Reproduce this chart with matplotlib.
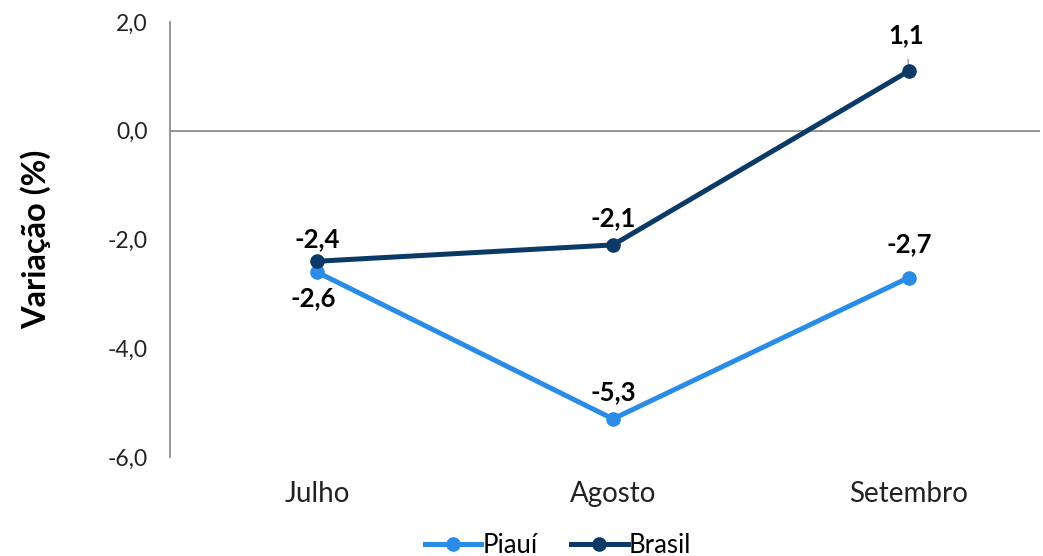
import matplotlib.pyplot as plt

plt.rcParams['font.family'] = ['Lato', 'DejaVu Sans']

meses = ['Julho', 'Agosto', 'Setembro']
piaui = [-2.6, -5.3, -2.7]
brasil = [-2.4, -2.1, 1.1]

cor_piaui = '#2A8CE6'
cor_brasil = '#0C3A66'

W, H = 1043, 556
fig = plt.figure(figsize=(W / 100, H / 100), dpi=100)
ax = fig.add_axes([170 / W, 1 - 457 / H, (1040 - 170) / W, (457 - 22) / H])

x = list(range(len(meses)))
ax.plot(x, piaui, '-o', color=cor_piaui, lw=3.6, ms=9.5, label='Piauí', zorder=3)
ax.plot(x, brasil, '-o', color=cor_brasil, lw=3.6, ms=9.5, label='Brasil', zorder=4)

ax.set_xlim(-0.497, 2.443)
ax.set_ylim(-6, 2)
ax.set_yticks([-6, -4, -2, 0, 2])
ax.set_yticklabels([f'{v:.1f}'.replace('.', ',') for v in [-6, -4, -2, 0, 2]])
ax.set_xticks(x)
ax.set_xticklabels(meses)
ax.tick_params(axis='y', length=0, pad=16, labelsize=16.5, colors='#222222')
ax.tick_params(axis='x', length=0, pad=17, labelsize=20, colors='#222222')

for s in ['top', 'right', 'bottom']:
    ax.spines[s].set_visible(False)
ax.spines['left'].set_color('#8c8c8c')
ax.spines['left'].set_linewidth(1.3)
ax.axhline(0, color='#8c8c8c', lw=1.3, zorder=1)

ax.set_ylabel('Variação (%)', fontsize=23.5, fontweight='bold', labelpad=41)

fmt = lambda v: f'{v:.1f}'.replace('.', ',')
kw = dict(ha='center', va='center', fontsize=18.5, fontweight='bold', color='black')
ax.annotate(fmt(brasil[0]), (0, brasil[0]), xytext=(0, 22), textcoords='offset pixels', **kw)
ax.annotate(fmt(piaui[0]), (0, piaui[0]), xytext=(-4, -26), textcoords='offset pixels', **kw)
ax.annotate(fmt(brasil[1]), (1, brasil[1]), xytext=(0, 27), textcoords='offset pixels', **kw)
ax.annotate(fmt(piaui[1]), (1, piaui[1]), xytext=(0, 27), textcoords='offset pixels', **kw)
ax.annotate(fmt(piaui[2]), (2, piaui[2]), xytext=(0, 33), textcoords='offset pixels', **kw)
ax.annotate(fmt(brasil[2]), (2, brasil[2]), xytext=(-3, 36), textcoords='offset pixels',
            arrowprops=dict(arrowstyle='-', color='#aaaaaa', lw=1.2, shrinkA=7, shrinkB=3), **kw)

fig.legend(loc='lower center', bbox_to_anchor=(0.535, -0.045), ncol=2, frameon=False,
           fontsize=18.5, handlelength=2.2, handletextpad=0.05, columnspacing=1.3)

fig.savefig('out.png', dpi=100)
